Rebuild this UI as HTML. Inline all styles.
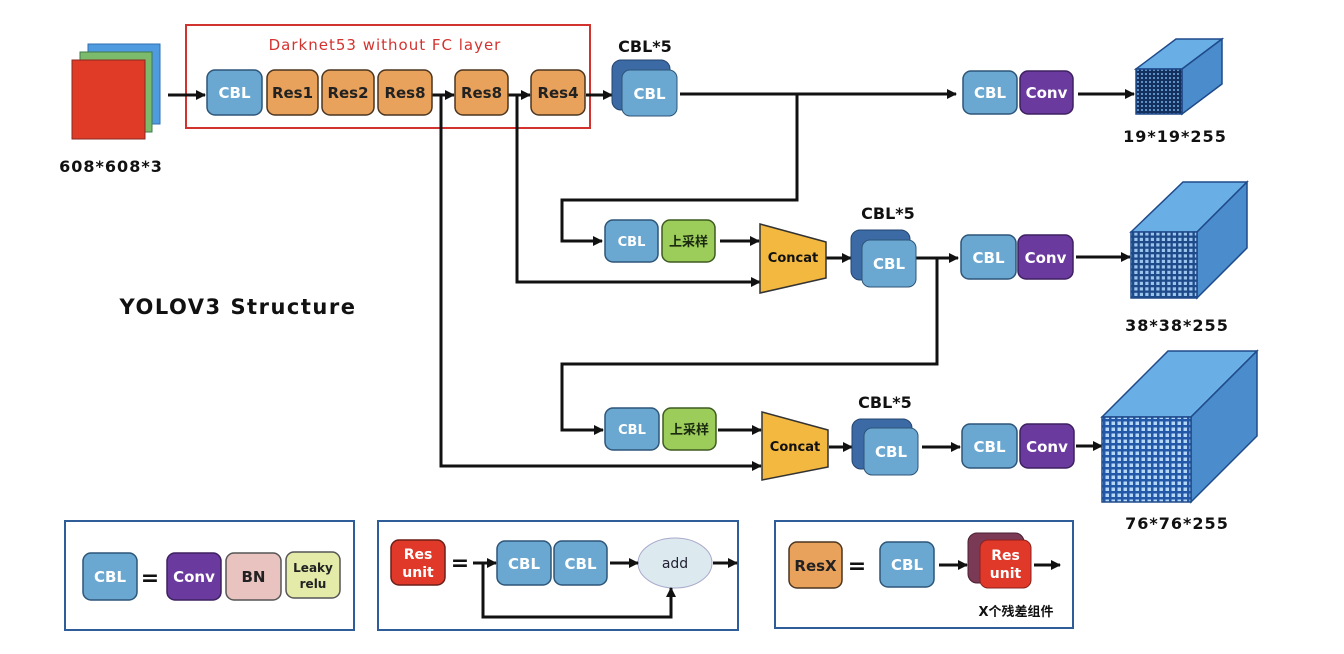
<!DOCTYPE html>
<html><head><meta charset="utf-8"><style>
html,body{margin:0;padding:0;background:#fff;}
svg{display:block;}
text{font-family:"DejaVu Sans","Liberation Sans","Noto Sans CJK SC",sans-serif;font-weight:bold;}
</style></head><body>
<svg width="1344" height="654" viewBox="0 0 1344 654" xmlns="http://www.w3.org/2000/svg">
<defs>
<marker id="ah" markerWidth="10" markerHeight="10" refX="9" refY="5" orient="auto" markerUnits="userSpaceOnUse"><path d="M0,0 L10,5 L0,10 z" fill="#111"/></marker>
<pattern id="g1" width="4" height="4" patternUnits="userSpaceOnUse"><rect width="4" height="4" fill="#14305c"/><rect x="1" y="1" width="2" height="2" fill="#5f8fc8"/></pattern>
<pattern id="g2" width="5.5" height="5.5" patternUnits="userSpaceOnUse"><rect width="5.5" height="5.5" fill="#1f4a8a"/><rect x="1.3" y="1.3" width="3.2" height="3.2" fill="#9cc5ee"/></pattern>
<pattern id="g3" width="6" height="6" patternUnits="userSpaceOnUse"><rect width="6" height="6" fill="#2358a8"/><rect x="1.5" y="1.5" width="3.5" height="3.5" fill="#b5d8f6"/></pattern>
</defs>

<!-- input -->
<rect x="88" y="44" width="72" height="80" fill="#4f9be0" stroke="#2f6fb0"/>
<rect x="80" y="52" width="72" height="80" fill="#7dbb6c" stroke="#3f7a4a"/>
<rect x="72" y="60" width="73" height="79" fill="#df3b26" stroke="#8a2a20"/>
<text x="111" y="172" font-size="16" text-anchor="middle" fill="#111" letter-spacing="1">608*608*3</text>

<!-- darknet box -->
<rect x="186" y="25" width="404" height="103" fill="none" stroke="#d2332f" stroke-width="2"/>
<text x="385" y="50" font-size="15" style="font-weight:normal" text-anchor="middle" fill="#d2332f" letter-spacing="1">Darknet53 without FC layer</text>

<g stroke-width="3" stroke="#111" fill="none">
<line x1="168" y1="95" x2="205" y2="95" marker-end="url(#ah)"/>
<line x1="432" y1="95" x2="454" y2="95" marker-end="url(#ah)"/>
<line x1="508" y1="95" x2="530" y2="95" marker-end="url(#ah)"/>
<line x1="586" y1="95" x2="612" y2="95" marker-end="url(#ah)"/>
<polyline points="680,94 956,94" marker-end="url(#ah)"/>
<line x1="1078" y1="94" x2="1134" y2="94" marker-end="url(#ah)"/>
<polyline points="797,94 797,200 562,200 562,241 602,241" marker-end="url(#ah)"/>
<line x1="720" y1="241" x2="759" y2="241" marker-end="url(#ah)"/>
<polyline points="517,95 517,282 760,282" marker-end="url(#ah)"/>
<line x1="826" y1="258" x2="851" y2="258" marker-end="url(#ah)"/>
<line x1="916" y1="258" x2="958" y2="258" marker-end="url(#ah)"/>
<line x1="1076" y1="257" x2="1130" y2="257" marker-end="url(#ah)"/>
<polyline points="937,258 937,364 562,364 562,430 603,430" marker-end="url(#ah)"/>
<line x1="718" y1="430" x2="761" y2="430" marker-end="url(#ah)"/>
<polyline points="441,95 441,466 761,466" marker-end="url(#ah)"/>
<line x1="829" y1="447" x2="852" y2="447" marker-end="url(#ah)"/>
<line x1="922" y1="447" x2="960" y2="447" marker-end="url(#ah)"/>
<line x1="1076" y1="446" x2="1102" y2="446" marker-end="url(#ah)"/>
</g>

<g font-size="15" text-anchor="middle">
<rect x="207" y="70" width="55" height="45" rx="8" fill="#6aa8d2" stroke="#2d5578" stroke-width="1.5"/><text x="234.5" y="98" fill="#fff">CBL</text>
<rect x="267" y="70" width="51" height="45" rx="8" fill="#e9a25b" stroke="#4a3520" stroke-width="1.5"/><text x="292.5" y="98" fill="#222">Res1</text>
<rect x="322" y="70" width="52" height="45" rx="8" fill="#e9a25b" stroke="#4a3520" stroke-width="1.5"/><text x="348" y="98" fill="#222">Res2</text>
<rect x="378" y="70" width="54" height="45" rx="8" fill="#e9a25b" stroke="#4a3520" stroke-width="1.5"/><text x="405" y="98" fill="#222">Res8</text>
<rect x="455" y="70" width="53" height="45" rx="8" fill="#e9a25b" stroke="#4a3520" stroke-width="1.5"/><text x="481.5" y="98" fill="#222">Res8</text>
<rect x="531" y="70" width="54" height="45" rx="8" fill="#e9a25b" stroke="#4a3520" stroke-width="1.5"/><text x="558" y="98" fill="#222">Res4</text>
</g>

<g font-size="15" text-anchor="middle">
<text x="645" y="52" fill="#111" font-size="16">CBL*5</text>
<rect x="612" y="60" width="58" height="50" rx="9" fill="#3b6aa5" stroke="#23446e"/>
<rect x="622" y="70" width="55" height="46" rx="8" fill="#6aa8d2" stroke="#2d5578"/>
<text x="649.5" y="99" fill="#fff">CBL</text>

<text x="888" y="219" fill="#111" font-size="16">CBL*5</text>
<rect x="851" y="230" width="59" height="50" rx="9" fill="#3b6aa5" stroke="#23446e"/>
<rect x="862" y="240" width="54" height="47" rx="8" fill="#6aa8d2" stroke="#2d5578"/>
<text x="889" y="269" fill="#fff">CBL</text>

<text x="885" y="408" fill="#111" font-size="16">CBL*5</text>
<rect x="852" y="419" width="60" height="50" rx="9" fill="#3b6aa5" stroke="#23446e"/>
<rect x="864" y="428" width="54" height="47" rx="8" fill="#6aa8d2" stroke="#2d5578"/>
<text x="891" y="457" fill="#fff">CBL</text>
</g>

<g font-size="15" text-anchor="middle">
<rect x="963" y="71" width="54" height="43" rx="8" fill="#6aa8d2" stroke="#2d5578" stroke-width="1.5"/><text x="990" y="98" fill="#fff">CBL</text>
<rect x="1020" y="71" width="53" height="43" rx="8" fill="#6a3a9f" stroke="#3d2060" stroke-width="1.5"/><text x="1046.5" y="98" fill="#fff">Conv</text>
<rect x="961" y="235" width="55" height="44" rx="8" fill="#6aa8d2" stroke="#2d5578" stroke-width="1.5"/><text x="988.5" y="263" fill="#fff">CBL</text>
<rect x="1018" y="235" width="55" height="44" rx="8" fill="#6a3a9f" stroke="#3d2060" stroke-width="1.5"/><text x="1045.5" y="263" fill="#fff">Conv</text>
<rect x="962" y="424" width="55" height="44" rx="8" fill="#6aa8d2" stroke="#2d5578" stroke-width="1.5"/><text x="989.5" y="452" fill="#fff">CBL</text>
<rect x="1020" y="424" width="54" height="44" rx="8" fill="#6a3a9f" stroke="#3d2060" stroke-width="1.5"/><text x="1047" y="452" fill="#fff">Conv</text>
</g>

<g font-size="13" text-anchor="middle">
<rect x="605" y="220" width="53" height="42" rx="8" fill="#6aa8d2" stroke="#2d5578" stroke-width="1.5"/><text x="631.5" y="246" fill="#fff">CBL</text>
<rect x="662" y="220" width="53" height="42" rx="8" fill="#9ccc5a" stroke="#3d5a20" stroke-width="1.5"/><text x="688.5" y="246" fill="#1a2a10">上采样</text>
<rect x="605" y="408" width="54" height="42" rx="8" fill="#6aa8d2" stroke="#2d5578" stroke-width="1.5"/><text x="632" y="434" fill="#fff">CBL</text>
<rect x="663" y="408" width="53" height="42" rx="8" fill="#9ccc5a" stroke="#3d5a20" stroke-width="1.5"/><text x="689.5" y="434" fill="#1a2a10">上采样</text>
<polygon points="760,224 826,242 826,278 760,293" fill="#f2b840" stroke="#333" stroke-width="1.5"/>
<text x="793" y="262" fill="#111" font-size="13">Concat</text>
<polygon points="762,412 828,430 828,467 762,480" fill="#f2b840" stroke="#333" stroke-width="1.5"/>
<text x="795" y="451" fill="#111" font-size="13">Concat</text>
</g>

<g stroke="#1f4a8a" stroke-width="1.5">
<polygon points="1136,69 1176,39 1222,39 1182,69" fill="#6aaee6"/>
<polygon points="1182,69 1222,39 1222,84 1182,114" fill="#4a8ccc"/>
<rect x="1136" y="69" width="46" height="45" fill="url(#g1)"/>
<polygon points="1131,232 1183,182 1247,182 1197,232" fill="#6aaee6"/>
<polygon points="1197,232 1247,182 1247,248 1197,298" fill="#4a8ccc"/>
<rect x="1131" y="232" width="66" height="66" fill="url(#g2)"/>
<polygon points="1102,417 1168,351 1257,351 1191,417" fill="#6aaee6"/>
<polygon points="1191,417 1257,351 1257,436 1191,502" fill="#4a8ccc"/>
<rect x="1102" y="417" width="89" height="85" fill="url(#g3)"/>
</g>
<g font-size="16" text-anchor="middle" fill="#111" letter-spacing="1">
<text x="1175" y="142">19*19*255</text>
<text x="1177" y="331">38*38*255</text>
<text x="1177" y="529">76*76*255</text>
</g>

<text x="238" y="314" font-size="21" text-anchor="middle" fill="#111" letter-spacing="1.5">YOLOV3 Structure</text>

<rect x="65" y="521" width="289" height="109" fill="none" stroke="#2f5d9a" stroke-width="2"/>
<rect x="378" y="521" width="360" height="109" fill="none" stroke="#2f5d9a" stroke-width="2"/>
<rect x="775" y="521" width="298" height="107" fill="none" stroke="#2f5d9a" stroke-width="2"/>

<g font-size="15" text-anchor="middle">
<rect x="83" y="553" width="54" height="47" rx="8" fill="#6aa8d2" stroke="#2d5578" stroke-width="1.5"/><text x="110" y="582" fill="#fff">CBL</text>
<text x="150" y="585" fill="#111" font-size="22">=</text>
<rect x="167" y="553" width="54" height="47" rx="8" fill="#6a3a9f" stroke="#3d2060" stroke-width="1.5"/><text x="194" y="582" fill="#fff">Conv</text>
<rect x="226" y="553" width="55" height="47" rx="8" fill="#e8c3c0" stroke="#555" stroke-width="1.5"/><text x="253.5" y="582" fill="#222">BN</text>
<rect x="286" y="552" width="54" height="46" rx="8" fill="#e4eaa8" stroke="#555" stroke-width="1.5"/>
<text x="313" y="572" fill="#222" font-size="12">Leaky</text><text x="313" y="588" fill="#222" font-size="12">relu</text>

<rect x="391" y="540" width="54" height="45" rx="8" fill="#e0392a" stroke="#6a1f18" stroke-width="1.5"/>
<text x="418" y="559" fill="#fff" font-size="14">Res</text><text x="418" y="577" fill="#fff" font-size="14">unit</text>
<text x="460" y="570" fill="#111" font-size="22">=</text>
<rect x="497" y="541" width="54" height="44" rx="8" fill="#6aa8d2" stroke="#2d5578" stroke-width="1.5"/><text x="524" y="569" fill="#fff">CBL</text>
<rect x="554" y="541" width="53" height="44" rx="8" fill="#6aa8d2" stroke="#2d5578" stroke-width="1.5"/><text x="580.5" y="569" fill="#fff">CBL</text>
<ellipse cx="675" cy="563" rx="37" ry="25" fill="#dceaf0" stroke="#aac" stroke-width="1"/>
<text x="675" y="568" fill="#223" font-size="14" style="font-weight:normal">add</text>

<rect x="789" y="542" width="53" height="46" rx="8" fill="#e9a25b" stroke="#4a3520" stroke-width="1.5"/><text x="815.5" y="571" fill="#222">ResX</text>
<text x="857" y="573" fill="#111" font-size="22">=</text>
<rect x="880" y="542" width="54" height="45" rx="8" fill="#6aa8d2" stroke="#2d5578" stroke-width="1.5"/><text x="907" y="570" fill="#fff">CBL</text>
<rect x="968" y="533" width="56" height="50" rx="9" fill="#7a3a55" stroke="#4a2030"/>
<rect x="980" y="540" width="51" height="48" rx="8" fill="#e0392a" stroke="#8a2020"/>
<text x="1005.5" y="560" fill="#fff" font-size="14">Res</text><text x="1005.5" y="578" fill="#fff" font-size="14">unit</text>
<text x="1016" y="616" fill="#111" font-size="13">X个残差组件</text>
</g>
<g stroke-width="3" stroke="#111" fill="none">
<line x1="473" y1="563" x2="496" y2="563" marker-end="url(#ah)"/>
<line x1="610" y1="563" x2="638" y2="563" marker-end="url(#ah)"/>
<line x1="713" y1="563" x2="737" y2="563" marker-end="url(#ah)"/>
<polyline points="483,563 483,617 671,617 671,588" marker-end="url(#ah)"/>
<line x1="939" y1="565" x2="967" y2="565" marker-end="url(#ah)"/>
<line x1="1034" y1="565" x2="1060" y2="565" marker-end="url(#ah)"/>
</g>
</svg>
</body></html>
